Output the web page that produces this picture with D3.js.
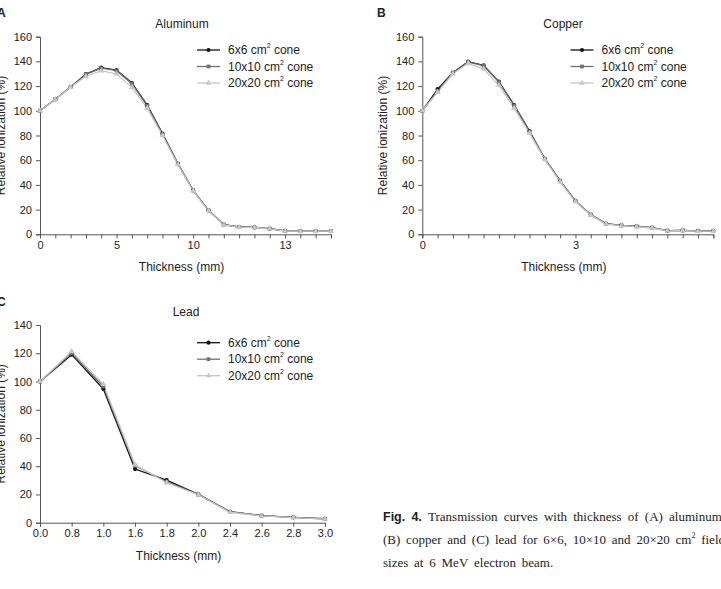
<!DOCTYPE html>
<html>
<head>
<meta charset="utf-8">
<style>
  body { margin: 0; background: #fff; }
  svg { display: block; }
  text { font-family: "Liberation Sans", Arial, sans-serif; fill: #222; }
</style>
</head>
<body>
<svg width="721" height="589"></svg>
<script src="https://d3js.org/d3.v7.min.js"></script>
<script>
// series names
var seriesNames = ["6x6", "10x10", "20x20"];

// A: aluminum, 20 thicknesses, only some are labelled
var alLabels = ["0", "", "", "", "", "5", "", "", "", "", "10", "", "", "", "", "", "13", "", "", ""];
var al6 = [100, 109.3, 119.3, 129.8, 134.9, 133, 122.5, 104.7, 81.5, 57.2, 35.6, 19.4, 7.8, 5.9, 5.6, 4.6, 2.7, 2.6, 2.6, 2.6];
var al10 = [100, 109.3, 119.3, 129.5, 134.5, 132.5, 122, 104, 81, 57, 35.6, 19.4, 7.8, 5.9, 5.6, 4.5, 2.7, 2.6, 2.6, 2.6];
var al20 = [100, 109.2, 119, 128, 132.5, 129.8, 119, 102, 80, 56.5, 35.2, 19, 7.6, 5.8, 5.5, 4.4, 2.6, 2.5, 2.5, 2.5];

// B: copper
var cuLabels = ["0", "", "", "", "", "", "", "", "", "", "3", "", "", "", "", "", "", "", "", ""];
var cu6 = [100, 117.6, 131, 139.8, 136.8, 123.6, 104.7, 83.6, 61.2, 43.2, 27, 15.9, 8.6, 7.3, 6.5, 5.4, 3, 3.2, 2.7, 2.7];
var cu10 = [100, 116, 130.8, 139.5, 136.5, 123.3, 104.2, 83.2, 61, 43, 27, 15.8, 8.5, 7.2, 6.4, 5.3, 3, 3.1, 2.6, 2.6];
var cu20 = [100, 115, 130, 138.4, 133.8, 120.6, 102, 81.8, 60.5, 42.5, 26.5, 15.5, 8.3, 7, 6.2, 5.1, 2.8, 3, 2.5, 2.5];

// C: lead
var pbLabels = ["0.0", "0.8", "1.0", "1.6", "1.8", "2.0", "2.4", "2.6", "2.8", "3.0"];
var pb6 = [100, 119, 94.7, 38, 30.2, 20, 7.8, 5, 3.8, 2.8];
var pb10 = [100, 120, 96.5, 40.5, 29, 20, 7.6, 5, 3.8, 2.7];
var pb20 = [100, 121.3, 98, 41, 28.3, 19.8, 7.4, 4.8, 3.6, 2.6];

var colors = ["#151515", "#707070", "#c6c6c6"];
var shapes = [d3.symbolCircle, d3.symbolSquare, d3.symbolTriangle];

var svg = d3.select("svg");

function panel(opt) {
  var n = opt.labels.length;
  var x = d3.scaleLinear().domain([0, n - 1]).range([opt.left, opt.right]);
  var y = d3.scaleLinear().domain([0, opt.ymax]).range([opt.bottom, opt.top]);
  var g = svg.append("g");

  var xAxis = g.append("g")
    .attr("transform", "translate(0," + opt.bottom + ")")
    .call(d3.axisBottom(x).tickValues(d3.range(n)).tickFormat(function (i) { return opt.labels[i]; })
      .tickSizeOuter(0).tickSize(4).tickPadding(3));
  var yAxis = g.append("g")
    .attr("transform", "translate(" + opt.left + ",0)")
    .call(d3.axisLeft(y).tickValues(d3.range(0, opt.ymax + 1, 20)).tickSizeOuter(0).tickSize(4).tickPadding(4));
  [xAxis, yAxis].forEach(function (a) {
    a.selectAll("path, line").attr("stroke", "#555");
    a.selectAll("text").attr("font-size", 11).attr("fill", "#222")
      .style("font-family", "'Liberation Sans', Arial, sans-serif");
  });

  var line = d3.line().x(function (d, i) { return x(i); }).y(function (d) { return y(d); });
  opt.series.forEach(function (s, k) {
    g.append("path").datum(s)
      .attr("fill", "none").attr("stroke", colors[k]).attr("stroke-width", 1.3)
      .attr("d", line);
  });
  opt.series.forEach(function (s, k) {
    g.selectAll(null).data(s).enter().append("path")
      .attr("transform", function (d, i) { return "translate(" + x(i) + "," + y(d) + ")"; })
      .attr("d", d3.symbol().type(shapes[k]).size(k === 2 ? 16 : 14))
      .attr("fill", colors[k]);
  });

  // titles
  g.append("text").attr("x", opt.titleX).attr("y", opt.top - 9).attr("text-anchor", "middle")
    .attr("font-size", 12).text(opt.title);
  g.append("text").attr("x", (opt.left + opt.right) / 2 - 4).attr("y", opt.bottom + 37)
    .attr("text-anchor", "middle").attr("font-size", 12).text("Thickness (mm)");
  g.append("text")
    .attr("transform", "translate(" + (opt.left - 35) + "," + ((opt.top + opt.bottom) / 2) + ") rotate(-90)")
    .attr("text-anchor", "middle").attr("font-size", 12).text("Relative ionization (%)");
  g.append("text").attr("x", opt.letterX).attr("y", opt.letterY)
    .attr("font-size", 12).attr("font-weight", "bold").attr("fill", "#111").text(opt.letter);

  // legend
  seriesNames.forEach(function (name, k) {
    var ly = opt.legY + k * 16.5;
    g.append("line").attr("x1", opt.legX).attr("x2", opt.legX + 23).attr("y1", ly).attr("y2", ly)
      .attr("stroke", colors[k]).attr("stroke-width", 1.3);
    g.append("path").attr("transform", "translate(" + (opt.legX + 11.5) + "," + ly + ")")
      .attr("d", d3.symbol().type(shapes[k]).size(14)).attr("fill", colors[k]);
    var t = g.append("text").attr("x", opt.legX + 31).attr("y", ly + 4).attr("font-size", 12);
    t.append("tspan").text(name + " cm");
    t.append("tspan").attr("font-size", 7).attr("dy", -6).text("2");
    t.append("tspan").attr("dy", 6).text(" cone");
  });
}

panel({ labels: alLabels, series: [al6, al10, al20], ymax: 160,
  left: 40, right: 331, top: 36.7, bottom: 234.3,
  title: "Aluminum", titleX: 182, letter: "A", letterX: -3, letterY: 17,
  legX: 197, legY: 50 });

panel({ labels: cuLabels, series: [cu6, cu10, cu20], ymax: 160,
  left: 422.3, right: 713.3, top: 36.7, bottom: 234.3,
  title: "Copper", titleX: 563, letter: "B", letterX: 377, letterY: 17,
  legX: 570.5, legY: 50 });

panel({ labels: pbLabels, series: [pb6, pb10, pb20], ymax: 140,
  left: 40, right: 325, top: 325, bottom: 522.7,
  title: "Lead", titleX: 186, letter: "C", letterX: -3, letterY: 306,
  legX: 197, legY: 342.7 });

// caption, justified lines
var capX = 383, capRight = 725;
var capLines = [
  { words: [{ t: "Fig.", b: true }, { t: "4.", b: true }, { t: "Transmission" }, { t: "curves" }, { t: "with" },
    { t: "thickness" }, { t: "of" }, { t: "(A)" }, { t: "aluminum," }], justify: true, y: 521 },
  { words: [{ t: "(B)" }, { t: "copper" }, { t: "and" }, { t: "(C)" }, { t: "lead" }, { t: "for" }, { t: "6×6," },
    { t: "10×10" }, { t: "and" }, { t: "20×20" }, { t: "cm", sup: "2" }, { t: "field" }], justify: true, y: 544 },
  { words: [{ t: "sizes" }, { t: "at" }, { t: "6" }, { t: "MeV" }, { t: "electron" }, { t: "beam." }], justify: false, y: 567 }
];
var cap = svg.append("g");
capLines.forEach(function (ln) {
  var nodes = ln.words.map(function (w) {
    var t = cap.append("text").attr("y", ln.y).attr("font-size", 13);
    if (w.b) {
      t.style("font-family", "'Liberation Sans', Arial, sans-serif").attr("font-weight", "bold").attr("font-size", 12.5);
    } else {
      t.style("font-family", "'Liberation Serif', 'Times New Roman', serif");
    }
    t.append("tspan").text(w.t);
    if (w.sup) t.append("tspan").attr("font-size", 8).attr("dy", -6).text(w.sup);
    return t;
  });
  var widths = nodes.map(function (t) { return t.node().getComputedTextLength(); });
  var total = d3.sum(widths);
  var gap = ln.justify ? (capRight - capX - total) / (nodes.length - 1) : 5.8;
  var cx = capX;
  nodes.forEach(function (t, i) { t.attr("x", cx); cx += widths[i] + gap; });
});
</script>
</body>
</html>
